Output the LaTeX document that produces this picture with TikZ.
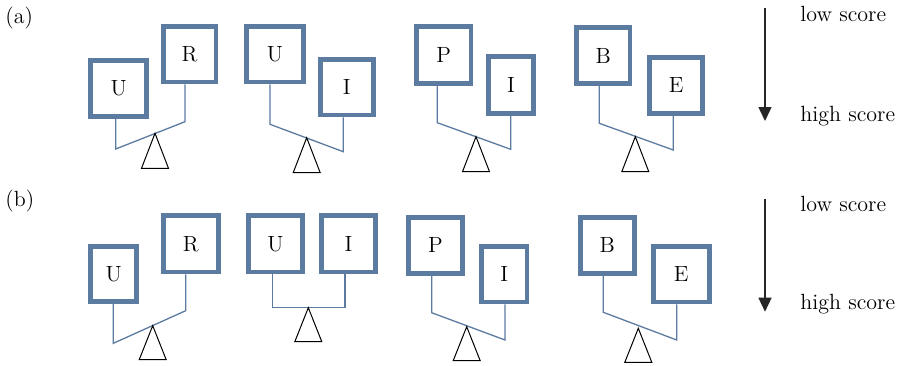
\documentclass[tikz,border=0pt]{standalone}
\usetikzlibrary{arrows.meta}
\definecolor{boxblue}{HTML}{5B7BA0}
\begin{document}
\begin{tikzpicture}[x=0.5pt,y=-0.5pt,
  bx/.style={draw=boxblue,line width=2.4pt,inner sep=0pt,font=\fontsize{11}{13}\selectfont},
  beam/.style={draw=boxblue,line width=0.65pt},
  fulcrum/.style={draw=black,line width=0.5pt,line join=miter},
  lbl/.style={anchor=base west,inner sep=0pt,font=\fontsize{11}{13}\selectfont},
  scorearrow/.style={draw=black!85,line width=0.7pt,-{Triangle[length=7pt,width=6.5pt]}}]
\useasboundingbox (0,0) rectangle (900,365);
% ---------------- row (a)
\node[lbl] (la) at (5,23.3) {(a)};
\node[bx,minimum width=27.9pt,minimum height=27.9pt] (u1a) at (118.7,88.7) {U};
\node[bx,minimum width=26.4pt,minimum height=27.8pt] (r1a) at (189.5,54.2) {R};
\node[bx,minimum width=28.3pt,minimum height=27.8pt] (u2a) at (275,54.2) {U};
\node[bx,minimum width=26.6pt,minimum height=27.9pt] (i2a) at (346.7,87) {I};
\node[bx,minimum width=27.3pt,minimum height=28.3pt] (p3a) at (443.7,55) {P};
\node[bx,minimum width=22.6pt,minimum height=28.3pt] (i3a) at (511,85) {I};
\node[bx,minimum width=26.6pt,minimum height=27.8pt] (b4a) at (603.3,55.5) {B};
\node[bx,minimum width=26.4pt,minimum height=27.9pt] (e4a) at (676.2,85.3) {E};
\coordinate (a1l) at (115.7,149);   \coordinate (a1r) at (185,121.7);   \coordinate (a1t) at (155,133.3);
\coordinate (a2l) at (270,124.3);   \coordinate (a2r) at (343.3,151.7); \coordinate (a2t) at (306.7,137.7);
\coordinate (a3l) at (437.3,122.7); \coordinate (a3r) at (510.7,149.3); \coordinate (a3t) at (476,136.7);
\coordinate (a4l) at (599.3,123.3); \coordinate (a4r) at (673.3,150);   \coordinate (a4t) at (635.3,136.7);
\draw[beam] (u1a.south -| a1l) -- (a1l) -- (a1r) -- (r1a.south -| a1r);
\draw[beam] (u2a.south -| a2l) -- (a2l) -- (a2r) -- (i2a.south -| a2r);
\draw[beam] (p3a.south -| a3l) -- (a3l) -- (a3r) -- (i3a.south -| a3r);
\draw[beam] (b4a.south -| a4l) -- (a4l) -- (a4r) -- (e4a.south -| a4r);
\foreach \t in {a1t,a2t,a3t,a4t}
  \draw[fulcrum] (\t) -- ++(-13.5,35) -- ++(27,0) -- cycle;
\coordinate (arAs) at (765,8.3);
\coordinate (arAe) at (765,121);
\draw[scorearrow] (arAs) -- (arAe);
\node[lbl] (lowa) at (800,21.7) {low score};
\node[lbl] (higha) at (800,121.7) {high score};
% ---------------- row (b)
\node[lbl] (lb) at (5,206.7) {(b)};
\node[bx,minimum width=22.9pt,minimum height=27.6pt] (u1b) at (113.7,274) {U};
\node[bx,minimum width=27.6pt,minimum height=28.1pt] (r1b) at (190.7,243.8) {R};
\node[bx,minimum width=27.1pt,minimum height=28.1pt] (u2b) at (275.5,243.8) {U};
\node[bx,minimum width=26.8pt,minimum height=28.1pt] (i2b) at (348.5,243.8) {I};
\node[bx,minimum width=27.1pt,minimum height=27.9pt] (p3b) at (435.5,245.3) {P};
\node[bx,minimum width=22.8pt,minimum height=27.8pt] (i3b) at (504.2,274.2) {I};
\node[bx,minimum width=27.1pt,minimum height=27.9pt] (b4b) at (607.2,245.3) {B};
\node[bx,minimum width=28.1pt,minimum height=27.6pt] (e4b) at (681.2,274.3) {E};
\coordinate (b1l) at (113.3,343.3); \coordinate (b1r) at (185.7,310.7); \coordinate (b1t) at (152.7,325.7);
\coordinate (b2l) at (272.7,307.7); \coordinate (b2r) at (345,307.7);   \coordinate (b2t) at (308.3,307.7);
\coordinate (b3l) at (431.7,312.7); \coordinate (b3r) at (505,340);     \coordinate (b3t) at (466.7,326.7);
\coordinate (b4l) at (603.3,312.3); \coordinate (b4r) at (676.7,340);   \coordinate (b4t) at (638.3,328.3);
\draw[beam] (u1b.south -| b1l) -- (b1l) -- (b1r) -- (r1b.south -| b1r);
\draw[beam] (u2b.south -| b2l) -- (b2l) -- (b2r) -- (i2b.south -| b2r);
\draw[beam] (p3b.south -| b3l) -- (b3l) -- (b3r) -- (i3b.south -| b3r);
\draw[beam] (b4b.south -| b4l) -- (b4l) -- (b4r) -- (e4b.south -| b4r);
\foreach \t in {b1t,b2t,b3t,b4t}
  \draw[fulcrum] (\t) -- ++(-13.5,34) -- ++(27,0) -- cycle;
\coordinate (arBs) at (765,199);
\coordinate (arBe) at (765,311.7);
\draw[scorearrow] (arBs) -- (arBe);
\node[lbl] (lowb) at (800,211) {low score};
\node[lbl] (highb) at (800,309) {high score};
\end{tikzpicture}
\end{document}
